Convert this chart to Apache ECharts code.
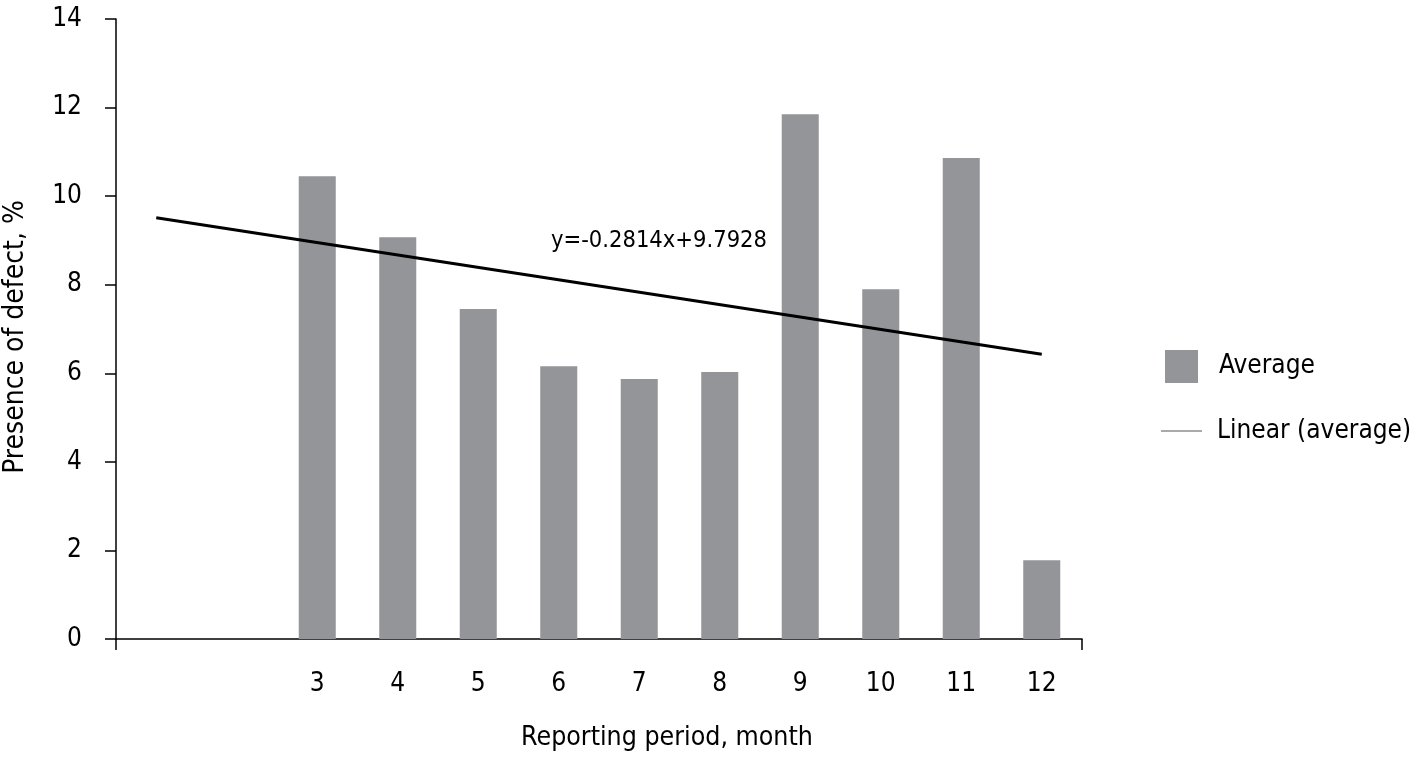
<!DOCTYPE html>
<html>
<head>
<meta charset="utf-8">
<script src="https://cdn.jsdelivr.net/npm/echarts@6/dist/echarts.min.js"></script>
<style>
html,body{margin:0;padding:0;background:#fff;}
#chart{width:1413px;height:757px;}
</style>
</head>
<body>
<div id="chart"></div>
<script>
var categories = ['', '', '3', '4', '5', '6', '7', '8', '9', '10', '11', '12'];
var averageValues = [null, null, 10.45, 9.07, 7.45, 6.16, 5.87, 6.03, 11.85, 7.90, 10.86, 1.78];
var trendPoints = [[0, 9.51], [11, 6.43]];
var yTicks = { min: 0, max: 14, interval: 2 };
var equationText = 'y=-0.2814x+9.7928';

var FONT = '"Liberation Sans Narrow", "DejaVu Sans Condensed", "Roboto", sans-serif';
var chart = echarts.init(document.getElementById('chart'));
chart.setOption({
  animation: false,
  textStyle: { fontFamily: FONT, color: '#000' },
  grid: { left: 116, right: 331, top: 19, bottom: 118, containLabel: false, outerBoundsMode: 'none' },
  xAxis: {
    type: 'category',
    data: categories,
    boundaryGap: true,
    name: 'Reporting period, month',
    nameLocation: 'middle',
    nameGap: 86,
    nameTextStyle: { fontFamily: FONT, fontSize: 26.5, color: '#000', padding: [0, 0, 0, 136] },
    axisLine: { lineStyle: { color: '#000', width: 1.5 } },
    axisTick: { show: true, length: 11, interval: function (i) { return i === 0; }, lineStyle: { color: '#000', width: 1.5 } },
    axisLabel: { fontFamily: FONT, fontSize: 26, color: '#000', margin: 32, interval: 0 },
    splitLine: { show: false }
  },
  yAxis: {
    type: 'value',
    min: yTicks.min, max: yTicks.max, interval: yTicks.interval,
    name: 'Presence of defect, %',
    nameLocation: 'middle',
    nameGap: 86,
    nameRotate: 90,
    nameTextStyle: { fontFamily: FONT, fontSize: 28, color: '#000', padding: [0, 16, 0, 0] },
    axisLine: { show: true, lineStyle: { color: '#000', width: 1.5 } },
    axisTick: { show: true, length: 11, lineStyle: { color: '#000', width: 1.5 } },
    axisLabel: { fontFamily: FONT, fontSize: 26, color: '#000', margin: 34 },
    splitLine: { show: false }
  },
  legend: [
    {
      data: [{ name: 'Average', icon: 'rect' }],
      orient: 'vertical',
      left: 1160, top: 345,
      itemWidth: 33, itemHeight: 33,
      textStyle: { fontFamily: FONT, fontSize: 26, color: '#000', padding: [0, 0, 0, 16] }
    },
    {
      data: [{ name: 'Linear (average)', icon: 'rect', itemStyle: { color: '#aaaaaa' } }],
      orient: 'vertical',
      left: 1156, top: 413,
      itemWidth: 41, itemHeight: 2,
      textStyle: { fontFamily: FONT, fontSize: 26, color: '#000', padding: [0, 0, 0, 10] }
    }
  ],
  graphic: [
    { type: 'text', left: 551, top: 229, style: { text: equationText, font: '23.5px ' + FONT, fill: '#000' } }
  ],
  series: [
    {
      name: 'Average',
      type: 'bar',
      data: averageValues,
      barWidth: '46%',
      itemStyle: { color: '#939598' }
    },
    {
      name: 'Linear (average)',
      type: 'line',
      data: trendPoints,
      symbol: 'none',
      lineStyle: { color: '#000', width: 3 },
      z: 5
    }
  ]
});
</script>
</body>
</html>
